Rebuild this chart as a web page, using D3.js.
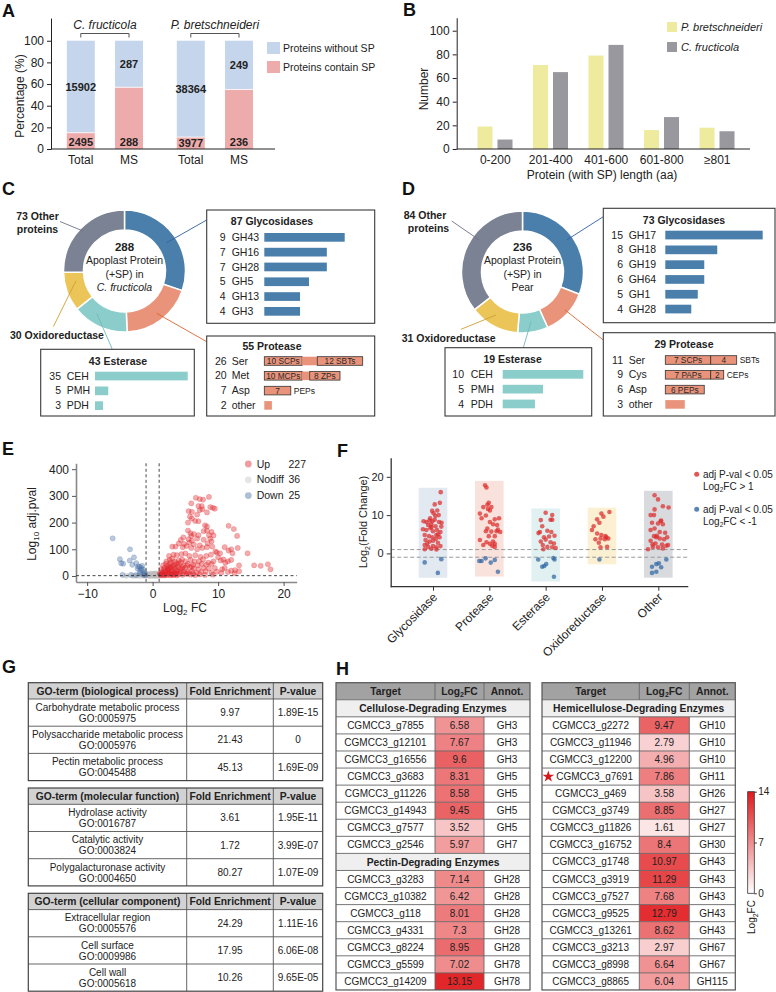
<!DOCTYPE html>
<html>
<head>
<meta charset="utf-8">
<script src="https://cdn.jsdelivr.net/npm/d3@7"></script>
<style>
  body { margin: 0; background: #fff; }
  svg { display: block; font-family: "Liberation Sans", Arial, Helvetica, sans-serif; }
</style>
</head>
<body>
<div id="fig"></div>
<script>
// ---------------- data ----------------
// A: signal peptide share
const spGroups = ["C. fructicola", "P. bretschneideri"]
const spCats = ["Total", "MS"]
const spPctWith = [[15, 57], [11, 55]]
const spNWith = [[2495, 288], [3977, 236]]
const spNWithout = [[15902, 287], [38364, 249]]

// B: protein length distribution
const lenBins = ["0-200", "201-400", "401-600", "601-800", "≥801"]
const lenSpecies = ["P. bretschneideri", "C. fructicola"]
const lenPb = [19, 71, 79, 16, 18]
const lenCf = [8, 65, 88, 27, 15]

// C / D: donut classes
const classNames = ["Glycosidases", "Protease", "Esterase", "Oxidoreductase", "Other proteins"]
const cfClassN = [87, 55, 43, 30, 73]
const pbClassN = [73, 29, 19, 31, 84]

const cfGlyName = ["GH43", "GH16", "GH28", "GH5", "GH13", "GH3"]
const cfGlyN = [9, 7, 7, 5, 4, 4]
const cfProtName = ["Ser", "Met", "Asp", "other"]
const cfProtN = [26, 20, 7, 2]
const cfProtParts = [[[10, "10 SCPs"], [4, ""], [12, "12 SBTs"]], [[10, "10 MCPs"], [2, ""], [8, "8 ZPs"]], [[7, "7"]], [[2, ""]]]
const cfProtSuffix = ["", "", "PEPs", ""]
const cfEstName = ["CEH", "PMH", "PDH"]
const cfEstN = [35, 5, 3]

const pbGlyName = ["GH17", "GH18", "GH19", "GH64", "GH1", "GH28"]
const pbGlyN = [15, 8, 6, 6, 5, 4]
const pbProtName = ["Ser", "Cys", "Asp", "other"]
const pbProtN = [11, 9, 6, 3]
const pbProtParts = [[[7, "7 SCPs"], [4, "4"]], [[7, "7 PAPs"], [2, "2"]], [[6, "6 PEPs"]], [[3, ""]]]
const pbProtSuffix = ["SBTs", "CEPs", "", ""]
const pbEstName = ["CEH", "PMH", "PDH"]
const pbEstN = [10, 5, 4]

// E: volcano [log2FC, -log10 adj p]
const volUp = [[6.6,293],[7.2,288],[7.7,286],[8.6,296],[5.9,272],[7.0,262],[7.5,262],[8.8,258],[9.2,255],[9.5,252],[5.5,243],[6.0,240],[7.2,247],[7.6,250],[6.8,230],[8.3,238],[5.7,222],[6.0,215],[6.5,206],[7.0,205],[5.4,200],[8.0,190],[8.3,185],[11.6,188],[12.4,176],[8.3,170],[7.8,168],[9.0,165],[5.4,170],[5.8,160],[6.3,157],[5.9,150],[7.0,153],[8.6,153],[9.3,152],[12.9,150],[4.7,145],[4.3,135],[5.5,138],[6.0,132],[6.8,140],[7.8,136],[8.8,140],[9.0,130],[4.0,122],[4.8,120],[5.6,125],[6.3,118],[7.2,115],[8.4,122],[3.0,110],[3.5,110],[4.6,108],[5.2,112],[5.9,105],[6.8,100],[7.6,105],[8.3,108],[9.1,110],[11.0,108],[12.0,100],[13.0,105],[9.6,92],[9.8,88],[10.3,85],[11.6,95],[12.2,85],[14.5,85],[2.5,75],[3.2,80],[3.7,78],[4.4,82],[5.0,85],[5.6,75],[6.5,78],[7.3,72],[8.2,75],[8.9,80],[10.0,70],[10.8,62],[11.5,55],[12.0,60],[2.1,55],[2.6,60],[3.0,65],[3.4,55],[4.0,58],[4.5,62],[5.0,55],[5.8,60],[6.4,55],[7.1,55],[7.7,62],[8.5,50],[9.3,55],[10.4,58],[11.1,50],[13.2,40],[9.0,45],[8.2,42],[7.5,45],[6.9,40],[6.2,42],[5.4,45],[4.7,40],[4.0,45],[3.3,42],[2.7,45],[2.2,38],[1.8,30],[2.3,28],[2.8,32],[3.4,28],[3.9,33],[4.5,28],[5.0,30],[5.7,32],[6.3,28],[7.0,25],[7.8,30],[8.6,28],[9.5,30],[10.6,25],[11.0,30],[12.0,20],[12.6,22],[13.2,18],[15.5,40],[16.5,38],[17.6,44],[18.0,25],[1.4,15],[1.9,18],[2.4,20],[2.9,18],[3.3,15],[3.8,20],[4.3,16],[4.8,18],[5.3,15],[6.0,18],[6.7,12],[7.4,15],[8.1,18],[9.0,12],[9.8,16],[10.5,12],[11.5,15],[12.5,10],[1.2,6],[1.6,8],[2.0,5],[2.5,8],[3.0,5],[3.5,9],[4.0,6],[4.6,4],[5.2,8],[5.8,5],[6.5,3],[7.2,6],[8.0,4],[9.2,5],[1.3,2],[1.8,2],[2.2,3],[2.7,2],[3.2,3],[3.7,2],[1.5,11],[2.1,12],[2.6,14],[3.1,10],[3.6,12],[2.3,25],[2.9,24],[3.6,22],[4.2,24],[1.7,22],[2.0,45],[2.8,52],[3.6,48],[4.3,52],[1.6,40],[2.4,35],[3.0,38],[3.8,40],[1.3,26],[2.0,18],[2.6,30],[3.2,34],[4.6,34],[5.3,38],[6.0,36],[1.1,9],[1.6,4],[2.4,10],[2.9,8],[3.4,6],[4.1,11],[4.9,10],[5.6,12],[6.2,8]]
const volNodiff = [[-0.9,2],[-0.7,4],[-0.5,1],[-0.3,3],[-0.1,2],[0.1,4],[0.3,1],[0.5,3],[0.7,2],[0.9,5],[-0.8,7],[-0.4,6],[0,7],[0.4,6],[0.8,8],[-0.6,0.5],[-0.2,0.5],[0.2,0.5],[0.6,0.5],[1.0,1],[-1.0,9],[0.2,9],[-2.4,1],[-3.0,0.5],[-2.0,0.5],[-1.6,1],[-4.0,0.5],[-1.3,0.5],[0.5,10],[-0.3,10],[1.1,4],[-1.1,5],[0,3],[0.9,1.5],[-0.6,2.5],[0.3,7.5]]
const volDown = [[-6.1,141],[-5.0,63],[-4.8,48],[-4.5,46],[-3.45,100],[-3.5,58],[-3.1,42],[-2.85,70],[-2.5,48],[-2.2,36],[-2.0,34],[-1.75,30],[-1.6,38],[-1.5,25],[-1.8,22],[-1.3,15],[-1.2,10],[-1.4,5],[-2.3,28],[-4.6,4],[-3.3,4],[-2.6,3],[-1.9,9],[-1.1,3],[-2.0,15]]
const volLegend = ["Up", "Nodiff", "Down"]
const volCounts = [227, 36, 25]

// F: log2FC by class [jitter (fraction of strip), log2FC]
const fCats = ["Glycosidase", "Protease", "Esterase", "Oxidoreductase", "Other"]
const fGly = [[0.27,16.0],[0.24,13.2],[0.06,12.8],[-0.03,11.1],[0.15,11.2],[0.2,10.0],[-0.33,8.4],[-0.23,8.2],[-0.12,8.6],[-0.02,8.4],[0.06,8.8],[0.21,8.2],[-0.17,7.4],[-0.06,7.6],[0.09,7.1],[0.29,7.0],[-0.35,6.3],[-0.23,6.1],[-0.09,6.6],[0,5.8],[0.14,6.1],[0.26,5.6],[-0.29,4.8],[-0.14,4.5],[-0.02,4.2],[0.12,4.8],[0.23,4.2],[-0.26,3.5],[-0.12,3.1],[0,3.3],[0.17,2.8],[-0.29,2.2],[-0.17,1.7],[0,1.9],[0.12,1.6],[0.26,1.9],[-0.06,1.2],[-0.29,1.1],[0.08,9.8],[-0.1,9.2],[0.18,5.0],[-0.2,2.6],[0.1,3.8],[-0.05,6.9],[0.3,8.0],[0.02,10.5],[0.12,1.0],[-0.29,-2.35],[0.29,-1.5],[0.17,-5.1]]
const fProt = [[-0.15,17.8],[-0.1,17.2],[-0.02,13.2],[-0.07,12.7],[-0.21,12.1],[0.07,12.1],[0.02,11.2],[-0.33,10.4],[-0.27,9.2],[-0.12,9.9],[0.19,8.9],[0.02,8.2],[0.34,9.2],[0.27,7.4],[0.13,7.6],[-0.07,6.5],[-0.12,5.8],[0.07,5.7],[0.25,5.8],[0.38,5.6],[-0.02,4.5],[0.19,4.5],[-0.33,3.5],[-0.1,2.9],[0.13,3.1],[0.19,2.5],[-0.21,2.2],[0.02,2.5],[0.19,1.7],[0.1,2.0],[-0.05,11.6],[0.3,6.2],[-0.35,-2.0],[-0.27,-2.0],[-0.13,-1.3],[0.05,-2.4],[0.19,-1.7],[0.3,-4.8]]
const fEst = [[0,10.6],[0.23,10.0],[-0.17,8.7],[0.17,8.8],[0.23,8.8],[-0.12,7.1],[-0.2,5.6],[0.06,5.9],[0.2,5.6],[-0.06,4.2],[0.12,4.4],[0.31,4.6],[-0.17,3.1],[0,3.6],[0.17,2.9],[0.29,2.6],[-0.1,2.2],[0.06,1.7],[0.23,1.6],[0.35,1.4],[-0.08,1.1],[-0.25,5.3],[-0.26,-1.6],[-0.12,-3.5],[0.02,-2.8],[0.27,-1.2],[0.31,-1.6],[0.29,-6.1],[-0.05,-3.3]]
const fOx = [[0.26,10.8],[-0.02,10.4],[-0.17,8.9],[-0.09,8.0],[-0.29,7.1],[-0.35,6.1],[-0.17,5.2],[-0.02,4.8],[0.12,4.5],[-0.05,3.9],[0.1,3.7],[0.22,3.9],[-0.23,3.7],[-0.11,2.8],[0.18,1.7],[-0.05,1.6],[0.05,9.6],[0.15,4.2],[-0.09,-1.6]]
const fOther = [[-0.13,15.2],[-0.01,14.1],[0.16,12.3],[0.36,12.0],[-0.13,11.5],[-0.27,10.0],[-0.15,10.0],[0.08,8.4],[-0.22,8.0],[-0.01,7.8],[0.16,7.6],[-0.13,6.5],[-0.27,6.1],[0.05,5.6],[0.24,5.4],[-0.15,4.5],[-0.07,4.2],[0.05,3.9],[0.2,3.7],[0.31,4.2],[-0.27,3.3],[-0.1,2.6],[0.13,2.3],[0.34,2.2],[-0.19,1.7],[-0.01,1.6],[0.16,1.3],[-0.36,1.1],[0.1,8.6],[-0.05,4.6],[0.28,2.0],[-0.2,2.4],[0.28,-1.6],[-0.22,-3.5],[-0.07,-2.8],[0.02,-2.6],[0.1,-3.6],[-0.22,-5.1],[-0.07,-4.8]]

// G: GO enrichment
const goSections = ["GO-term (biological process)", "GO-term (molecular function)", "GO-term (cellular component)"]
const goTerms = [["Carbohydrate metabolic process", "Polysaccharide metabolic process", "Pectin metabolic process"],
                 ["Hydrolase activity", "Catalytic activity", "Polygalacturonase activity"],
                 ["Extracellular region", "Cell surface", "Cell wall"]]
const goIds = [["GO:0005975", "GO:0005976", "GO:0045488"], ["GO:0016787", "GO:0003824", "GO:0004650"], ["GO:0005576", "GO:0009986", "GO:0005618"]]
const goFold = [["9.97", "21.43", "45.13"], ["3.61", "1.72", "80.27"], ["24.29", "17.95", "10.26"]]
const goPval = [["1.89E-15", "0", "1.69E-09"], ["1.95E-11", "3.99E-07", "1.07E-09"], ["1.11E-16", "6.06E-08", "9.65E-05"]]

// H: CAZyme heat table
const celluloseTarget = ["CGMCC3_g7855", "CGMCC3_g12101", "CGMCC3_g16556", "CGMCC3_g3683", "CGMCC3_g11226", "CGMCC3_g14943", "CGMCC3_g7577", "CGMCC3_g2546"]
const celluloseFC = [6.58, 7.67, 9.6, 8.31, 8.58, 9.45, 3.52, 5.97]
const celluloseAnnot = ["GH3", "GH3", "GH3", "GH5", "GH5", "GH5", "GH5", "GH7"]
const pectinTarget = ["CGMCC3_g3283", "CGMCC3_g10382", "CGMCC3_g118", "CGMCC3_g4331", "CGMCC3_g8224", "CGMCC3_g5599", "CGMCC3_g14209"]
const pectinFC = [7.14, 6.42, 8.01, 7.3, 8.95, 7.02, 13.15]
const pectinAnnot = ["GH28", "GH28", "GH28", "GH28", "GH28", "GH78", "GH78"]
const hemiTarget = ["CGMCC3_g2272", "CGMCC3_g11946", "CGMCC3_g12200", "CGMCC3_g7691", "CGMCC3_g469", "CGMCC3_g3749", "CGMCC3_g11826", "CGMCC3_g16752", "CGMCC3_g1748", "CGMCC3_g3919", "CGMCC3_g7527", "CGMCC3_g9525", "CGMCC3_g13261", "CGMCC3_g3213", "CGMCC3_g8998", "CGMCC3_g8865"]
const hemiFC = [9.47, 2.79, 4.96, 7.86, 3.58, 8.85, 1.61, 8.4, 10.97, 11.29, 7.68, 12.79, 8.62, 2.97, 6.64, 6.04]
const hemiAnnot = ["GH10", "GH10", "GH10", "GH11", "GH26", "GH27", "GH27", "GH30", "GH43", "GH43", "GH43", "GH43", "GH43", "GH67", "GH67", "GH115"]
const hemiStarred = "CGMCC3_g7691"

// ---------------- drawing ----------------
const ink = "#222"
const svg = d3.select("#fig").append("svg").attr("width", 776).attr("height", 992)

const styleAxis = (g, col) => {
  g.selectAll("path").attr("stroke", col || ink)
  g.selectAll("line").attr("stroke", col || ink)
  g.selectAll("text").attr("fill", ink).attr("font-family", null)
}

// panel letters
;[["A", 2, 17], ["B", 403, 16], ["C", 2, 195], ["D", 402, 195], ["E", 2, 455], ["F", 337, 457], ["G", 2, 673], ["H", 336, 675]]
  .forEach(([t, x, y]) => svg.append("text").attr("x", x).attr("y", y).attr("font-size", 18).attr("font-weight", "bold").attr("fill", "#111").text(t))

// --- A ---
const gA = svg.append("g")
const yA = d3.scaleLinear().domain([0, 121]).range([149, 18])
const xAGroup = d3.scaleBand().domain(spGroups).range([50, 270])
const xAInner = d3.scaleBand().domain(spCats).range([16.8, 93]).paddingInner(0.42)
spGroups.forEach((grp, gi) => {
  spCats.forEach((cat, ci) => {
    const x = xAGroup(grp) + xAInner(cat), bw = xAInner.bandwidth()
    const p = spPctWith[gi][ci]
    gA.append("rect").attr("x", x).attr("y", yA(100)).attr("width", bw).attr("height", yA(p) - yA(100)).attr("fill", "#c5d5ec")
    gA.append("rect").attr("x", x).attr("y", yA(p)).attr("width", bw).attr("height", yA(0) - yA(p)).attr("fill", "#eeabab")
    gA.append("line").attr("x1", x).attr("x2", x + bw).attr("y1", yA(p)).attr("y2", yA(p)).attr("stroke", "#fff").attr("stroke-width", 0.8)
    gA.append("text").attr("x", x + bw / 2).attr("y", (yA(100) + yA(p)) / 2).attr("dy", "0.35em").attr("text-anchor", "middle")
      .attr("font-size", 11).attr("font-weight", "bold").attr("fill", ink).text(spNWithout[gi][ci])
    gA.append("text").attr("x", x + bw / 2).attr("y", Math.max((yA(p) + yA(0)) / 2, 142)).attr("dy", "0.35em").attr("text-anchor", "middle")
      .attr("font-size", 11).attr("font-weight", "bold").attr("fill", ink).text(spNWith[gi][ci])
    gA.append("text").attr("x", x + bw / 2).attr("y", 164).attr("text-anchor", "middle").attr("font-size", 12).attr("fill", ink).text(cat)
  })
  const xa = xAGroup(grp) + xAInner("Total") + xAInner.bandwidth() / 2
  const xb = xAGroup(grp) + xAInner("MS") + xAInner.bandwidth() / 2
  gA.append("path").attr("d", `M${xa},37.5V33.5H${xb}V37.5`).attr("fill", "none").attr("stroke", "#555").attr("stroke-width", 1)
  gA.append("text").attr("x", (xa + xb) / 2).attr("y", 29).attr("text-anchor", "middle").attr("font-size", 12)
    .attr("font-style", "italic").attr("fill", ink).text(grp)
})
gA.append("g").attr("transform", "translate(51,0)")
  .call(d3.axisLeft(yA).tickValues([0, 20, 40, 60, 80, 100]).tickSize(4).tickSizeOuter(0))
  .call(g => styleAxis(g)).call(g => g.selectAll("text").attr("font-size", 12))
gA.append("line").attr("x1", 51).attr("x2", 275).attr("y1", yA(0)).attr("y2", yA(0)).attr("stroke", ink)
gA.append("text").attr("transform", "translate(24,96) rotate(-90)").attr("text-anchor", "middle").attr("font-size", 12).attr("fill", ink).text("Percentage (%)")
;[["Proteins without SP", "#c5d5ec", 48], ["Proteins contain SP", "#eeabab", 67]].forEach(([t, c, y]) => {
  gA.append("rect").attr("x", 267).attr("y", y - 6).attr("width", 13).attr("height", 12).attr("fill", c)
  gA.append("text").attr("x", 283).attr("y", y).attr("dy", "0.35em").attr("font-size", 10.5).attr("fill", ink).text(t)
})

// --- B ---
const gB = svg.append("g")
const yB = d3.scaleLinear().domain([0, 111]).range([149, 17.7])
const xB = d3.scaleBand().domain(lenBins).range([467.5, 745])
const xBInner = d3.scaleBand().domain(lenSpecies).range([10, 45]).paddingInner(0.25)
const lenColors = ["#eeeb9f", "#98989e"]
lenBins.forEach((bin, i) => {
  ;[lenPb, lenCf].forEach((arr, si) => {
    gB.append("rect").attr("x", xB(bin) + xBInner(lenSpecies[si])).attr("y", yB(arr[i]))
      .attr("width", xBInner.bandwidth()).attr("height", yB(0) - yB(arr[i])).attr("fill", lenColors[si])
  })
  gB.append("text").attr("x", xB(bin) + xB.bandwidth() / 2).attr("y", 164).attr("text-anchor", "middle").attr("font-size", 12).attr("fill", ink).text(bin)
})
gB.append("g").attr("transform", "translate(456.7,0)")
  .call(d3.axisLeft(yB).tickValues([0, 20, 40, 60, 80, 100]).tickSize(4).tickSizeOuter(0))
  .call(g => styleAxis(g)).call(g => g.selectAll("text").attr("font-size", 12))
gB.append("line").attr("x1", 456.7).attr("x2", 750).attr("y1", yB(0)).attr("y2", yB(0)).attr("stroke", ink)
gB.append("text").attr("transform", "translate(428,89) rotate(-90)").attr("text-anchor", "middle").attr("font-size", 12).attr("fill", ink).text("Number")
gB.append("text").attr("x", 602).attr("y", 179).attr("text-anchor", "middle").attr("font-size", 12).attr("fill", ink).text("Protein (with SP) length (aa)")
lenSpecies.forEach((sp, i) => {
  gB.append("rect").attr("x", 667).attr("y", 22 + i * 20).attr("width", 10).attr("height", 10).attr("fill", lenColors[i])
  gB.append("text").attr("x", 681).attr("y", 27 + i * 20).attr("dy", "0.35em").attr("font-size", 11).attr("font-style", "italic").attr("fill", ink).text(sp)
})

// --- C / D donuts ---
const donutColors = ["#4a7fab", "#e8937a", "#8acdcb", "#ecc559", "#7b8293"]
const pie = d3.pie().sort(null).value(d => d)
const arc = d3.arc().innerRadius(41).outerRadius(61)

function drawDonut(cx, cy, counts, centerLines) {
  const g = svg.append("g").attr("transform", `translate(${cx},${cy})`)
  g.selectAll("path").data(pie(counts)).join("path").attr("d", arc)
    .attr("fill", (d, i) => donutColors[i]).attr("stroke", "#fff").attr("stroke-width", 1.5)
  centerLines.forEach(([t, dy, bold, ital]) => {
    g.append("text").attr("y", dy).attr("dy", "0.35em").attr("text-anchor", "middle").attr("font-size", bold ? 11.5 : 10.5)
      .attr("font-weight", bold ? "bold" : null).attr("font-style", ital ? "italic" : null).attr("fill", ink).text(t)
  })
}
drawDonut(124.5, 271, cfClassN, [[d3.sum(cfClassN), -23.7, true], ["Apoplast Protein", -11], ["(+SP) in", 3], ["C. fructicola", 16.3, false, true]])
drawDonut(522.5, 272, pbClassN, [[d3.sum(pbClassN), -24.7, true], ["Apoplast Protein", -12], ["(+SP) in", 2], ["Pear", 15.3]])

function leader(x1, y1, x2, y2, col) {
  svg.append("line").attr("x1", x1).attr("y1", y1).attr("x2", x2).attr("y2", y2).attr("stroke", col).attr("stroke-width", 0.9)
}
function boldLabel(x, y, t, anchor) {
  svg.append("text").attr("x", x).attr("y", y).attr("dy", "0.35em").attr("text-anchor", anchor || "middle")
    .attr("font-size", 10.5).attr("font-weight", "bold").attr("fill", ink).text(t)
}
// C labels
boldLabel(37.5, 216.7, `${cfClassN[4]} Other`); boldLabel(37.5, 229, "proteins")
boldLabel(10, 335, `${cfClassN[3]} ${classNames[3]}`, "start")
leader(60, 221.5, 83, 231, "#6d7384")
leader(53.3, 326.7, 76, 280.7, "#c9a033")
leader(206.7, 220, 166.7, 242.7, "#2f5fa5")
leader(206.7, 341.7, 156.7, 313.3, "#d9662e")
leader(112.3, 349.3, 96.7, 313.3, "#6fbab8")
// D labels
boldLabel(425, 215, `${pbClassN[4]} Other`); boldLabel(428.5, 228, "proteins")
boldLabel(401.7, 338.3, `${pbClassN[3]} ${classNames[3]}`, "start")
leader(451.7, 221, 479.3, 240, "#6d7384")
leader(461, 329.3, 496, 315, "#c9a033")
leader(603.3, 216.7, 566.7, 240, "#2f5fa5")
leader(603.3, 340, 565, 310, "#d9662e")
leader(523.3, 347.7, 531, 321.7, "#6fbab8")

function drawListBox(o) {
  const g = svg.append("g")
  g.append("rect").attr("x", o.x).attr("y", o.y).attr("width", o.w).attr("height", o.h)
    .attr("fill", "#fff").attr("stroke", "#3a3a3a").attr("stroke-width", 1.1)
  g.append("text").attr("x", o.titleX).attr("y", o.titleY).attr("dy", "0.35em").attr("text-anchor", "middle")
    .attr("font-size", 10.5).attr("font-weight", "bold").attr("fill", ink).text(o.title)
  const xs = d3.scaleLinear().domain([0, o.max]).range([o.barX0, o.barX1])
  const ys = d3.scalePoint().domain(o.names).range([o.rowY0, o.rowY0 + 14.8 * (o.names.length - 1)])
  o.names.forEach((nm, i) => {
    const cy = ys(nm)
    g.append("text").attr("x", o.numX).attr("y", cy).attr("dy", "0.35em").attr("text-anchor", "end").attr("font-size", 10.5).attr("fill", ink).text(o.counts[i])
    g.append("text").attr("x", o.labelX).attr("y", cy).attr("dy", "0.35em").attr("font-size", 10.5).attr("fill", ink).text(nm)
    if (o.parts) {
      let acc = 0
      o.parts[i].forEach(([n, lab]) => {
        const x0 = xs(acc), x1 = xs(acc + n)
        g.append("rect").attr("x", x0).attr("y", cy - 4.3).attr("width", x1 - x0).attr("height", 8.6)
          .attr("fill", o.color).attr("stroke", lab ? "#333" : "none").attr("stroke-width", 0.8)
        if (lab) g.append("text").attr("x", (x0 + x1) / 2).attr("y", cy).attr("dy", "0.35em").attr("text-anchor", "middle")
          .attr("font-size", 8.3).attr("fill", "#2a2a2a").text(lab)
        acc += n
      })
      if (o.suffix[i]) g.append("text").attr("x", xs(acc) + 3).attr("y", cy).attr("dy", "0.35em").attr("font-size", 8.5).attr("fill", ink).text(o.suffix[i])
    } else {
      g.append("rect").attr("x", xs(0)).attr("y", cy - 4.3).attr("width", xs(o.counts[i]) - xs(0)).attr("height", 8.7).attr("fill", o.color)
    }
  })
}

drawListBox({ x: 206.7, y: 210, w: 168, h: 113.3, titleX: 272, titleY: 221.7, title: `${cfClassN[0]} ${classNames[0]}`,
  names: cfGlyName, counts: cfGlyN, rowY0: 237.3, numX: 225.5, labelX: 231.7, barX0: 264.3, barX1: 344.7, max: 9, color: donutColors[0] })
drawListBox({ x: 206.7, y: 336, w: 168, h: 80, titleX: 272, titleY: 346, title: `${cfClassN[1]} ${classNames[1]}`,
  names: cfProtName, counts: cfProtN, parts: cfProtParts, suffix: cfProtSuffix, rowY0: 361, numX: 226.7, labelX: 231.7, barX0: 264.3, barX1: 362.7, max: 26, color: donutColors[1] })
drawListBox({ x: 40.7, y: 349.3, w: 153.6, h: 66.7, titleX: 118, titleY: 361, title: `${cfClassN[2]} ${classNames[2]}`,
  names: cfEstName, counts: cfEstN, rowY0: 376, numX: 61, labelX: 66.7, barX0: 95, barX1: 187.7, max: 35, color: donutColors[2] })
drawListBox({ x: 603.3, y: 208.3, w: 171.7, h: 114.4, titleX: 684, titleY: 220, title: `${pbClassN[0]} ${classNames[0]}`,
  names: pbGlyName, counts: pbGlyN, rowY0: 235, numX: 623, labelX: 628.7, barX0: 665.3, barX1: 762.7, max: 15, color: donutColors[0] })
drawListBox({ x: 603.3, y: 332.7, w: 171.7, h: 83.3, titleX: 684, titleY: 344.3, title: `${pbClassN[1]} ${classNames[1]}`,
  names: pbProtName, counts: pbProtN, parts: pbProtParts, suffix: pbProtSuffix, rowY0: 360, numX: 623, labelX: 628.7, barX0: 665.3, barX1: 736.7, max: 11, color: donutColors[1] })
drawListBox({ x: 445, y: 347.7, w: 146.7, h: 68.3, titleX: 512.6, titleY: 359.3, title: `${pbClassN[2]} ${classNames[2]}`,
  names: pbEstName, counts: pbEstN, rowY0: 374.3, numX: 464, labelX: 470.7, barX0: 502.7, barX1: 583.3, max: 10, color: donutColors[2] })

// --- E volcano ---
const gE = svg.append("g")
const xE = d3.scaleLinear().domain([-11.7, 22]).range([76, 296.7])
const yE = d3.scaleLinear().domain([-22.5, 422]).range([582, 463.3])
const volColors = ["#e0262a", "#bdbdbd", "#4a70a6"]
gE.append("g").attr("transform", "translate(0,582)").call(d3.axisBottom(xE).tickValues([-10, 0, 10, 20]).tickSize(4).tickSizeOuter(0))
  .call(g => styleAxis(g, "#555")).call(g => g.select(".domain").attr("stroke", "#888").attr("stroke-width", 1.6))
  .call(g => g.selectAll("text").attr("font-size", 12))
gE.append("g").attr("transform", "translate(76,0)").call(d3.axisLeft(yE).tickValues([0, 100, 200, 300, 400]).tickSize(4).tickSizeOuter(0))
  .call(g => styleAxis(g, "#555")).call(g => g.select(".domain").attr("stroke", "#888").attr("stroke-width", 1.6))
  .call(g => g.selectAll("text").attr("font-size", 12))
;[[volNodiff, 1], [volDown, 2], [volUp, 0]].forEach(([arr, ci]) => {
  gE.append("g").selectAll("circle").data(arr).join("circle")
    .attr("cx", d => xE(d[0])).attr("cy", d => yE(d[1])).attr("r", 2.6)
    .attr("fill", volColors[ci]).attr("fill-opacity", ci === 1 ? 0.55 : 0.38)
    .attr("stroke", volColors[ci]).attr("stroke-opacity", ci === 1 ? 0.4 : 0.35).attr("stroke-width", 0.6)
})
;[-1, 1].forEach(v => gE.append("line").attr("x1", xE(v)).attr("x2", xE(v)).attr("y1", yE(422)).attr("y2", 582)
  .attr("stroke", "#333").attr("stroke-dasharray", "3,2.5").attr("stroke-width", 0.9))
gE.append("line").attr("x1", 76).attr("x2", 296.7).attr("y1", yE(1.3)).attr("y2", yE(1.3))
  .attr("stroke", "#333").attr("stroke-dasharray", "3,2.5").attr("stroke-width", 0.9)
volLegend.forEach((t, i) => {
  const y = 464 + i * 15.8
  gE.append("circle").attr("cx", 248.3).attr("cy", y).attr("r", 3.4).attr("fill", volColors[i]).attr("fill-opacity", i === 1 ? 0.4 : 0.45)
  gE.append("text").attr("x", 256.7).attr("y", y).attr("dy", "0.35em").attr("font-size", 10.5).attr("fill", ink).text(t)
  gE.append("text").attr("x", 288.5).attr("y", y).attr("dy", "0.35em").attr("font-size", 10.5).attr("fill", ink).text(volCounts[i])
})
gE.append("text").attr("transform", "translate(36,524) rotate(-90)").attr("text-anchor", "middle").attr("font-size", 12).attr("fill", ink)
  .html('Log<tspan font-size="8" dy="3">10</tspan><tspan dy="-3"> adj.pval</tspan>')
gE.append("text").attr("x", 185).attr("y", 612).attr("text-anchor", "middle").attr("font-size", 12).attr("fill", ink)
  .html('Log<tspan font-size="8" dy="3">2</tspan><tspan dy="-3"> FC</tspan>')

// --- F strip plot ---
const gF = svg.append("g")
const xF = d3.scalePoint().domain(fCats).range([433, 658.3])
const yF = d3.scaleLinear().domain([-8.7, 25]).range([586.7, 457.7])
const fSets = [fGly, fProt, fEst, fOx, fOther]
const fBg = ["#e2e9f0", "#f9e2dc", "#e1f1f1", "#fbf0d1", "#d8dade"]
const stripW = 28.6
fCats.forEach((cat, i) => {
  const ext = d3.extent(fSets[i], d => d[1])
  gF.append("rect").attr("x", xF(cat) - stripW / 2).attr("y", yF(ext[1] + 1.15)).attr("width", stripW)
    .attr("height", yF(ext[0] - 1.25) - yF(ext[1] + 1.15)).attr("fill", fBg[i])
})
;[1, -1].forEach(v => gF.append("line").attr("x1", 390.7).attr("x2", 688.3).attr("y1", yF(v)).attr("y2", yF(v))
  .attr("stroke", "#999").attr("stroke-dasharray", "4,2.5").attr("stroke-width", 1))
fCats.forEach((cat, i) => {
  gF.append("g").selectAll("circle").data(fSets[i]).join("circle")
    .attr("cx", d => xF(cat) + d[0] * stripW).attr("cy", d => yF(d[1])).attr("r", 2.3)
    .attr("fill", d => d[1] > 0 ? "#dd2c2c" : "#2f67a3").attr("fill-opacity", 0.72)
})
gF.append("g").attr("transform", "translate(390.7,0)").call(d3.axisLeft(yF).tickValues([0, 10, 20]).tickSize(4).tickSizeOuter(0))
  .call(g => styleAxis(g, "#333")).call(g => g.select(".domain").attr("stroke-width", 1.3))
  .call(g => g.selectAll("text").attr("font-size", 11))
gF.append("line").attr("x1", 390.7).attr("x2", 688.3).attr("y1", 586.7).attr("y2", 586.7).attr("stroke", "#333").attr("stroke-width", 1.3)
gF.append("g").attr("transform", "translate(0,586.7)").call(d3.axisBottom(xF).tickSize(4).tickFormat(""))
  .call(g => g.select(".domain").remove()).call(g => styleAxis(g, "#333"))
fCats.forEach(cat => {
  gF.append("text").attr("transform", `translate(${xF(cat) + 2},595) rotate(-45)`).attr("text-anchor", "end").attr("dy", "0.35em")
    .attr("font-size", 12).attr("fill", ink).text(cat)
})
gF.append("text").attr("transform", "translate(367,522) rotate(-90)").attr("text-anchor", "middle").attr("font-size", 11).attr("fill", ink)
  .html('Log<tspan font-size="7" dy="3">2</tspan><tspan dy="-3">(Fold Change)</tspan>')
;[["#dd2c2c", 474.3, "> 1"], ["#2f67a3", 509.3, "< -1"]].forEach(([c, y, t]) => {
  gF.append("circle").attr("cx", 696.7).attr("cy", y).attr("r", 2.5).attr("fill", c).attr("fill-opacity", 0.8)
  gF.append("text").attr("x", 703).attr("y", y).attr("dy", "0.35em").attr("font-size", 10).attr("fill", ink).text("adj P-val < 0.05")
  gF.append("text").attr("x", 703).attr("y", y + 11.7).attr("dy", "0.35em").attr("font-size", 10).attr("fill", ink)
    .html(`Log<tspan font-size="6.5" dy="2.5">2</tspan><tspan dy="-2.5">FC ${t}</tspan>`)
})

// --- G GO tables ---
const gG = svg.append("g")
const goColX = [28.3, 186.7, 273.3, 322.7]
const goHeads = ["Fold Enrichment", "P-value"]
goSections.forEach((sec, si) => {
  const top = 682.7 + si * 105.3
  const rowY = d3.scaleBand().domain(d3.range(goTerms[si].length)).range([top + 16.3, top + 16.3 + 27.2 * 3])
  gG.append("rect").attr("x", goColX[0]).attr("y", top).attr("width", goColX[3] - goColX[0]).attr("height", 16.3).attr("fill", "#d2d2d2")
  const heads = [sec, ...goHeads]
  heads.forEach((h, c) => gG.append("text").attr("x", (goColX[c] + goColX[c + 1]) / 2).attr("y", top + 8.2).attr("dy", "0.35em")
    .attr("text-anchor", "middle").attr("font-size", 10.3).attr("font-weight", "bold").attr("fill", ink).text(h))
  goTerms[si].forEach((term, ri) => {
    const y0 = rowY(ri), cy = y0 + rowY.bandwidth() / 2
    const cx = c => (goColX[c] + goColX[c + 1]) / 2
    gG.append("text").attr("x", cx(0)).attr("y", cy - 5.3).attr("dy", "0.35em").attr("text-anchor", "middle").attr("font-size", 10).attr("fill", ink).text(term)
    gG.append("text").attr("x", cx(0)).attr("y", cy + 5.7).attr("dy", "0.35em").attr("text-anchor", "middle").attr("font-size", 10).attr("fill", ink).text(goIds[si][ri])
    gG.append("text").attr("x", cx(1)).attr("y", cy).attr("dy", "0.35em").attr("text-anchor", "middle").attr("font-size", 10).attr("fill", ink).text(goFold[si][ri])
    gG.append("text").attr("x", cx(2)).attr("y", cy).attr("dy", "0.35em").attr("text-anchor", "middle").attr("font-size", 10).attr("fill", ink).text(goPval[si][ri])
    gG.append("line").attr("x1", goColX[0]).attr("x2", goColX[3]).attr("y1", y0).attr("y2", y0).attr("stroke", "#555").attr("stroke-width", 0.9)
  })
  const bottom = rowY.range()[1]
  goColX.slice(1, 3).forEach(x => gG.append("line").attr("x1", x).attr("x2", x).attr("y1", top).attr("y2", bottom).attr("stroke", "#555").attr("stroke-width", 0.9))
  gG.append("rect").attr("x", goColX[0]).attr("y", top).attr("width", goColX[3] - goColX[0]).attr("height", bottom - top)
    .attr("fill", "none").attr("stroke", "#444").attr("stroke-width", 1.2)
})

// --- H heat tables ---
const gH = svg.append("g")
const fcColor = d3.scaleLinear().domain([0, 14]).range(["#ffffff", "#e0191c"])
const rowH = 17.07

function drawHeatTable(colX, sections) {
  const top = 682.7
  const nRows = 1 + d3.sum(sections, s => 1 + s.target.length)
  const yRow = r => top + r * rowH
  const cx = c => (colX[c] + colX[c + 1]) / 2
  const txt = (x, y, t, opts = {}) => gH.append("text").attr("x", x).attr("y", y).attr("dy", "0.35em").attr("text-anchor", "middle")
    .attr("font-size", opts.size || 10).attr("font-weight", opts.bold ? "bold" : null).attr("fill", ink).text(t)
  // header
  gH.append("rect").attr("x", colX[0]).attr("y", yRow(0)).attr("width", colX[3] - colX[0]).attr("height", rowH).attr("fill", "#a2a2a2")
  txt(cx(0), yRow(0) + rowH / 2, "Target", { bold: true, size: 10.3 })
  gH.append("text").attr("x", cx(1)).attr("y", yRow(0) + rowH / 2).attr("dy", "0.35em").attr("text-anchor", "middle")
    .attr("font-size", 10.3).attr("font-weight", "bold").attr("fill", ink).html('Log<tspan font-size="7" dy="2.5">2</tspan><tspan dy="-2.5">FC</tspan>')
  txt(cx(2), yRow(0) + rowH / 2, "Annot.", { bold: true, size: 10.3 })
  let r = 1
  const hLines = [yRow(1)]
  const segs = [[yRow(0), yRow(1)]]
  sections.forEach(sec => {
    gH.append("rect").attr("x", colX[0]).attr("y", yRow(r)).attr("width", colX[3] - colX[0]).attr("height", rowH).attr("fill", "#efefef")
    txt((colX[0] + colX[3]) / 2, yRow(r) + rowH / 2, sec.title, { bold: true, size: 10.3 })
    r++
    hLines.push(yRow(r))
    segs.push([yRow(r), yRow(r + sec.target.length)])
    sec.target.forEach((t, i) => {
      const y0 = yRow(r), cy = y0 + rowH / 2
      gH.append("rect").attr("x", colX[1]).attr("y", y0).attr("width", colX[2] - colX[1]).attr("height", rowH).attr("fill", fcColor(sec.fc[i]))
      const starred = t === hemiStarred
      txt(cx(0) + (starred ? 4 : 0), cy, t)
      if (starred) gH.append("path").attr("d", d3.symbol(d3.symbolStar, 42)()).attr("transform", `translate(${colX[0] + 6.3},${cy})`).attr("fill", "#d9181c")
      txt(cx(1), cy, String(sec.fc[i]))
      txt(cx(2), cy, sec.annot[i])
      r++
      if (r < nRows) hLines.push(yRow(r))
    })
  })
  const bottom = yRow(nRows)
  hLines.forEach(y => gH.append("line").attr("x1", colX[0]).attr("x2", colX[3]).attr("y1", y).attr("y2", y).attr("stroke", "#666").attr("stroke-width", 0.9))
  colX.slice(1, 3).forEach(x => segs.forEach(([a, b]) => gH.append("line").attr("x1", x).attr("x2", x).attr("y1", a).attr("y2", b).attr("stroke", "#666").attr("stroke-width", 0.9)))
  gH.append("rect").attr("x", colX[0]).attr("y", top).attr("width", colX[3] - colX[0]).attr("height", bottom - top)
    .attr("fill", "none").attr("stroke", "#555").attr("stroke-width", 1.2)
}
drawHeatTable([336, 435, 484, 530], [
  { title: "Cellulose-Degrading Enzymes", target: celluloseTarget, fc: celluloseFC, annot: celluloseAnnot },
  { title: "Pectin-Degrading Enzymes", target: pectinTarget, fc: pectinFC, annot: pectinAnnot }])
drawHeatTable([542, 639.3, 689.3, 735.3], [
  { title: "Hemicellulose-Degrading Enzymes", target: hemiTarget, fc: hemiFC, annot: hemiAnnot }])

// colour bar
const cbScale = d3.scaleLinear().domain([0, 14]).range([893.3, 791.7])
const grad = svg.append("defs").append("linearGradient").attr("id", "fcgrad").attr("x1", 0).attr("x2", 0).attr("y1", 1).attr("y2", 0)
;[0, 7, 14].forEach(v => grad.append("stop").attr("offset", v / 14).attr("stop-color", fcColor(v)))
gH.append("rect").attr("x", 747.7).attr("y", cbScale(14)).attr("width", 6.6).attr("height", cbScale(0) - cbScale(14))
  .attr("fill", "url(#fcgrad)").attr("stroke", "#333").attr("stroke-width", 0.8)
gH.append("g").attr("transform", "translate(754.3,0)").call(d3.axisRight(cbScale).tickValues([0, 7, 14]).tickSize(2.5))
  .call(g => g.select(".domain").remove()).call(g => styleAxis(g, "#333")).call(g => g.selectAll("text").attr("font-size", 10).attr("x", 4))
gH.append("text").attr("transform", "translate(755,917) rotate(-90)").attr("text-anchor", "middle").attr("font-size", 10).attr("fill", ink)
  .html('Log<tspan font-size="7" dy="2.5">2</tspan><tspan dy="-2.5">FC</tspan>')
</script>
</body>
</html>
